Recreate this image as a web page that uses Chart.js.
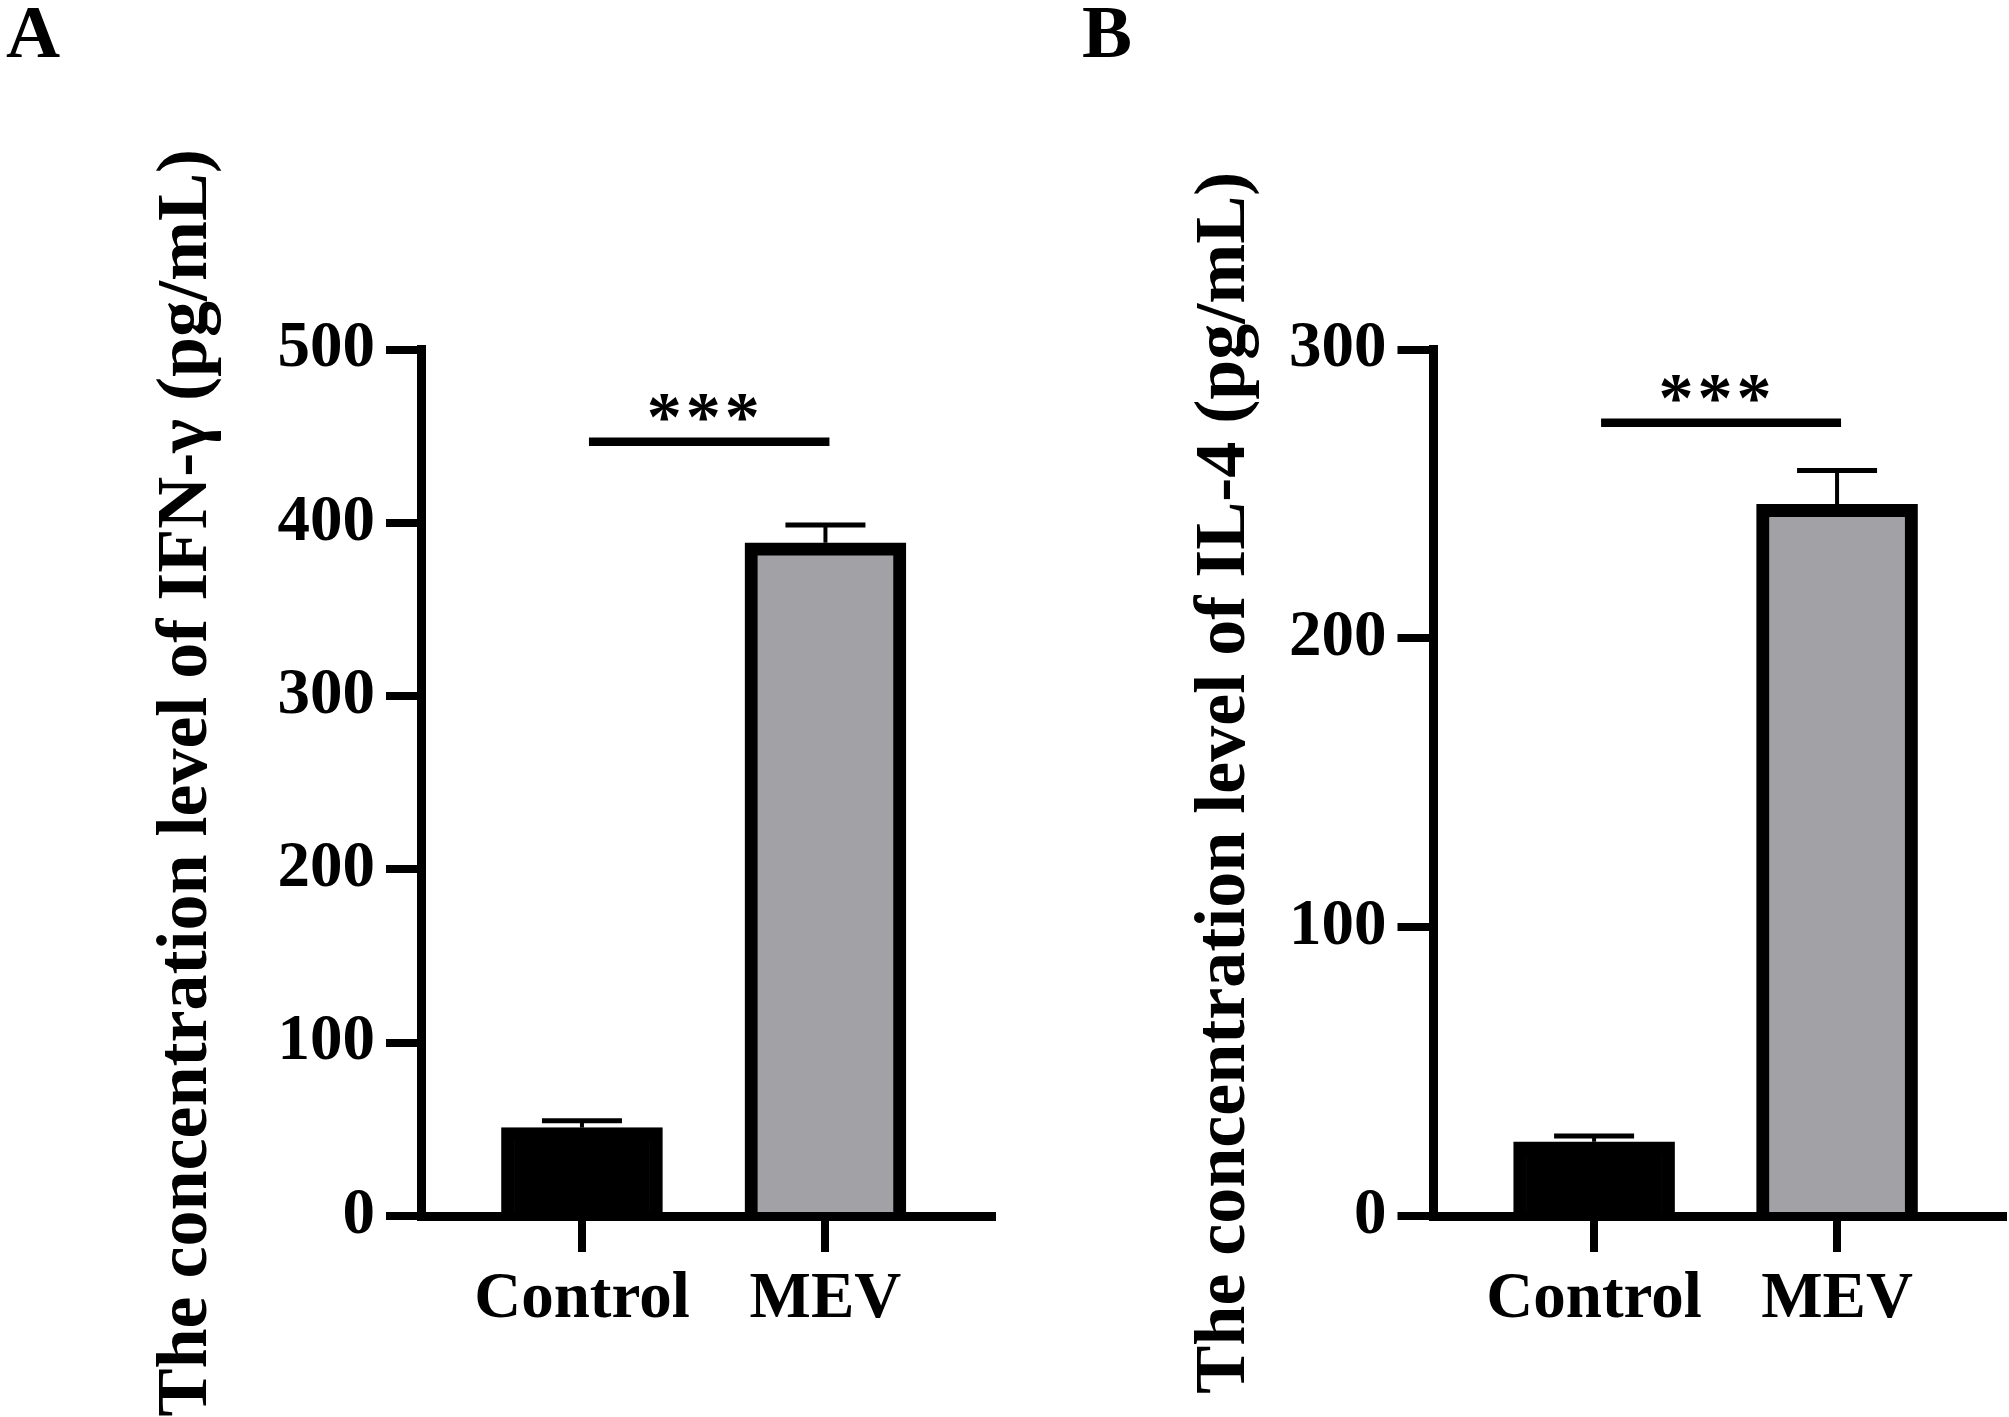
<!DOCTYPE html>
<html>
<head>
<meta charset="utf-8">
<script src="https://cdn.jsdelivr.net/npm/chart.js@4.4.1/dist/chart.umd.min.js"></script>
<style>
  html, body { margin: 0; padding: 0; background: #fff; }
  #page { position: relative; width: 2009px; height: 1417px; overflow: hidden; background: #fff; }
  canvas { position: absolute; top: 0; }
  .panel-letter { position: absolute; top: -6px; font: bold 75px "Liberation Serif", "Times New Roman", serif; line-height: 75px; color: #000; }
</style>
</head>
<body>
<div id="page">
  <canvas id="chartA" width="1000" height="1417" style="left:0"></canvas>
  <canvas id="chartB" width="1009" height="1417" style="left:1000px"></canvas>
  <div class="panel-letter" style="left:6px">A</div>
  <div class="panel-letter" style="left:1082px">B</div>
</div>
<script>
// data (mean and SEM per group)
const categories = ['Control', 'MEV'];
const barColors = ['#000000', '#a2a2a6'];

const ifnMean = [51, 388.5];
const ifnSem = [4, 10.3];
const ifnAxisMax = 500;
const ifnSigY = 446.7;

const il4Mean = [25.7, 246.4];
const il4Sem = [2, 11.7];
const il4AxisMax = 300;
const il4SigY = 274.6;

const yStep = 100;
const sigLabel = '***';

Chart.defaults.font.family = '"Liberation Serif", "Times New Roman", serif';
Chart.defaults.color = '#000';

function makeChart(canvasId, means, sems, yMax, sigY, titleText, layout) {
    const ctx = document.getElementById(canvasId).getContext('2d');

    // whiskers on top of each bar
    const errorBars = {
        id: 'errorBars',
        afterDatasetsDraw(chart) {
            const { ctx, scales: { x, y } } = chart;
            ctx.save();
            ctx.strokeStyle = '#000';
            ctx.lineCap = 'butt';
            means.forEach((m, i) => {
                const px = x.getPixelForValue(i + 1);
                const base = y.getPixelForValue(m);
                const top = y.getPixelForValue(m + sems[i]);
                ctx.lineWidth = 4;
                ctx.beginPath();
                ctx.moveTo(px, base);
                ctx.lineTo(px, top);
                ctx.stroke();
                ctx.lineWidth = 5;
                ctx.beginPath();
                ctx.moveTo(px - 40, top);
                ctx.lineTo(px + 40, top);
                ctx.stroke();
            });
            ctx.restore();
        }
    };

    // significance line and stars
    const sigMark = {
        id: 'sigMark',
        afterDatasetsDraw(chart) {
            const { ctx, scales: { x, y } } = chart;
            const x1 = x.getPixelForValue(1) + 7;
            const x2 = x.getPixelForValue(2) + 4;
            const yy = y.getPixelForValue(sigY);
            ctx.save();
            ctx.strokeStyle = '#000';
            ctx.lineWidth = 8.5;
            ctx.beginPath();
            ctx.moveTo(x1, yy);
            ctx.lineTo(x2, yy);
            ctx.stroke();
            ctx.fillStyle = '#000';
            ctx.font = 'bold 70px "Liberation Serif", "Times New Roman", serif';
            ctx.letterSpacing = '4px';
            ctx.textAlign = 'center';
            ctx.textBaseline = 'alphabetic';
            ctx.fillText(sigLabel, (x1 + x2) / 2 - 4, yy - 2);
            ctx.restore();
        }
    };

    return new Chart(ctx, {
        type: 'bar',
        data: {
            datasets: [{
                data: categories.map((c, i) => ({ x: i + 1, y: means[i] })),
                backgroundColor: barColors,
                borderColor: '#000',
                borderWidth: 13,
                borderSkipped: 'start',
                barThickness: 161
            }]
        },
        options: {
            responsive: false,
            animation: false,
            devicePixelRatio: 1,
            layout: { padding: { left: 0, top: 349.5, right: layout.padRight, bottom: 0 } },
            plugins: { legend: { display: false }, tooltip: { enabled: false } },
            scales: {
                x: {
                    type: 'linear',
                    offset: false,
                    bounds: 'data',
                    min: layout.xMin,
                    max: layout.xMax,
                    afterBuildTicks: s => { s.ticks = categories.map((c, i) => ({ value: i + 1 })); },
                    afterFit: s => { s.height = 201; },
                    ticks: {
                        callback: v => categories[v - 1],
                        autoSkip: false,
                        maxRotation: 0,
                        padding: 9,
                        color: '#000',
                        font: { size: 65, weight: 'bold' }
                    },
                    grid: { offset: false, drawOnChartArea: false, color: '#000', lineWidth: 8, tickLength: 36 },
                    border: { display: true, color: '#000', width: 9 }
                },
                y: {
                    min: 0,
                    max: yMax,
                    afterFit: s => { s.width = layout.axisLeft; },
                    ticks: {
                        stepSize: yStep,
                        padding: 11,
                        color: '#000',
                        font: { size: 65, weight: 'bold' }
                    },
                    grid: { drawOnChartArea: false, color: '#000', lineWidth: 8, tickLength: 35.5 },
                    border: { display: true, color: '#000', width: 9 },
                    title: {
                        display: true,
                        text: titleText,
                        color: '#000',
                        font: { size: 72, weight: 'bold' },
                        padding: { top: layout.titlePad, bottom: 0 }
                    }
                }
            }
        },
        plugins: [errorBars, sigMark]
    });
}

makeChart('chartA', ifnMean, ifnSem, ifnAxisMax, ifnSigY,
    'The concentration level of IFN-\u03b3 (pg/mL)',
    { axisLeft: 421.5, titlePad: 144.3, xMin: 0.341, xMax: 2.682, padRight: 8.5 });

makeChart('chartB', il4Mean, il4Sem, il4AxisMax, il4SigY,
    'The concentration level of IL-4 (pg/mL)',
    { axisLeft: 433, titlePad: 182.3, xMin: 0.337, xMax: 2.683, padRight: 6 });
</script>
</body>
</html>
